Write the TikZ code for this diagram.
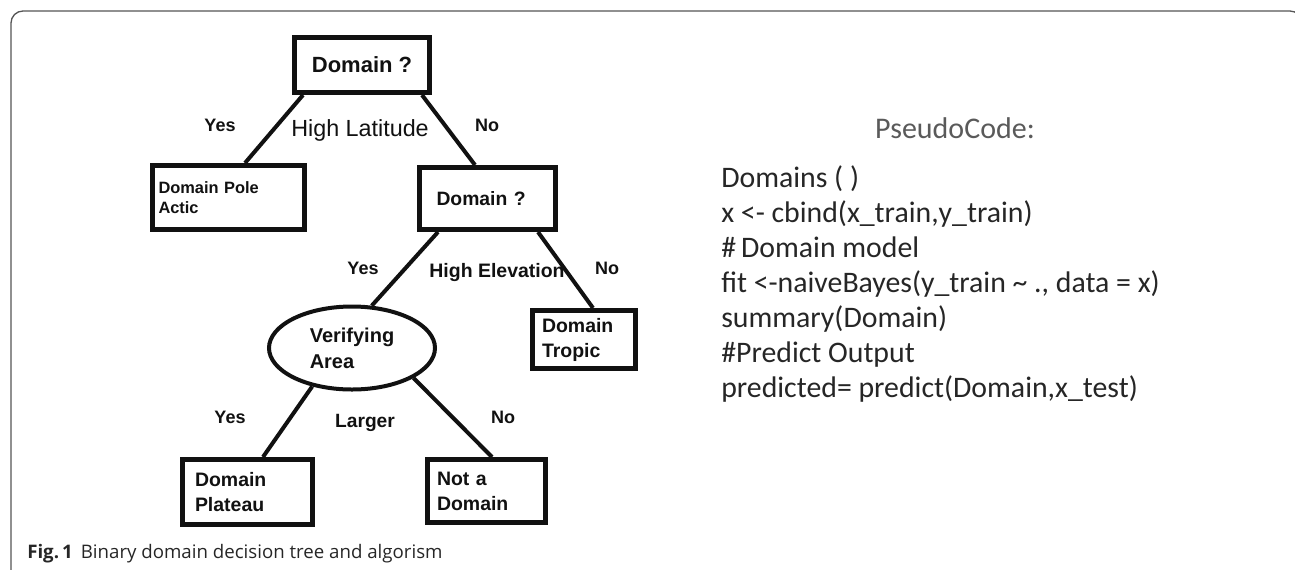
\documentclass[tikz,border=0pt]{standalone}
\usepackage{fontspec}
\setmainfont{Liberation Sans}
\newfontfamily\codefont{Carlito}
\newfontfamily\capfont{Open Sans}
\usetikzlibrary{shapes.geometric,calc}
\definecolor{ink}{HTML}{111111}
\definecolor{codeink}{HTML}{262626}
\definecolor{headgray}{HTML}{5A5A5A}
\definecolor{framegray}{HTML}{555555}
\begin{document}
\begin{tikzpicture}[x=0.75pt,y=-0.75pt,
  box/.style={draw=ink, text=ink, line width=3.75pt, rectangle, inner ysep=0pt, align=left,
    font=\bfseries\fontsize{14.6}{18.75}\selectfont},
  edge/.style={draw=ink, line width=3pt},
  lab/.style={text=ink, font=\bfseries\fontsize{13.5}{16}\selectfont, inner sep=0pt},
  codeline/.style={anchor=base west, inner sep=0pt, text=codeink, font=\codefont\fontsize{22.35}{26}\selectfont}]
\useasboundingbox (0,0) rectangle (1295,569);
% frame
\draw[framegray, line width=1pt, rounded corners=9pt] (11,580) -- (11,11) -- (1302,11) -- (1302,580);

% nodes
\node[box, align=center, inner sep=0pt, minimum width=101.25pt, minimum height=41.25pt,
      font=\bfseries\fontsize{16.5}{19}\selectfont] (root) at (362,65) {Domain ?};
\node[box, inner xsep=4.5pt, text width=105pt, minimum width=114pt, minimum height=48pt,
      font=\bfseries\fontsize{12.3}{15}\selectfont] (pole) at (228.5,197.5) {Domain Pole\\Actic};
\node[box, inner xsep=12.75pt, text width=76.5pt, minimum width=102pt, minimum height=46.5pt,
      font=\bfseries\fontsize{14.5}{18}\selectfont] (dom2) at (487.5,198.5) {Domain ?};
\node[box, inner xsep=7pt, text width=63pt, minimum width=77.25pt, minimum height=43.5pt] (tropic) at (584,339.5) {Domain\\Tropic};
\node[draw=ink, text=ink, line width=3pt, ellipse, inner sep=0pt, minimum width=124.5pt, minimum height=62.25pt,
      align=left, font=\bfseries\fontsize{15}{19.5}\selectfont] (ell) at (352,348) {Verifying\\Area};
\node[box, inner xsep=9.4pt, text width=78.75pt, minimum width=97.5pt, minimum height=48.75pt] (plateau) at (247.5,492) {Domain\\Plateau};
\node[box, inner xsep=7.1pt, text width=74.25pt, minimum width=88.5pt, minimum height=47.25pt] (notdom) at (486.5,491) {Not a\\Domain};

% connectors
\draw[edge] ($(root.south west)+(11,0)$) -- ($(pole.north west)+(95,0)$);
\draw[edge] ($(root.south east)+(-10,0)$) -- ($(dom2.north west)+(58,0)$);
\draw[edge] ($(dom2.south west)+(21,0)$) -- (ell.65);
\draw[edge] ($(dom2.south east)+(-20,0)$) -- ($(tropic.north west)+(63,0)$);
\draw[edge] (ell.224) -- ($(plateau.north west)+(83,0)$);
\draw[edge] (ell.334) -- ($(notdom.north west)+(67,0)$);

% edge labels
\node[lab] (y1) at (220,125) {Yes};
\node[text=ink, inner sep=0pt, font=\fontsize{17.5}{20}\selectfont] (hl) at (360,130) {High Latitude};
\node[lab] (n1) at (487,125) {No};
\node[lab] (y2) at (363,268) {Yes};
\node[lab, font=\bfseries\fontsize{14.6}{17}\selectfont] (he) at (497,273) {High Elevation};
\node[lab] (n2) at (607,268) {No};
\node[lab] (y3) at (230,417) {Yes};
\node[lab, font=\bfseries\fontsize{14.4}{17}\selectfont] (lg) at (365,423) {Larger};
\node[lab] (n3) at (503,417) {No};

% pseudocode
\node[inner sep=0pt, text=headgray, font=\codefont\fontsize{22.5}{26}\selectfont] (head) at (955,128) {PseudoCode:};
\node[codeline] (c1) at (721,187) {Domains ( )};
\node[codeline] (c2) at (721,222) {x <- cbind(x\_train,y\_train)};
\node[codeline] (c3) at (721,257) {\#\,Domain model};
\node[codeline] (c4) at (721,292) {fit <-naiveBayes(y\_train \textasciitilde\ ., data = x)};
\node[codeline] (c5) at (721,327) {summary(Domain)};
\node[codeline] (c6) at (721,362) {\#Predict Output};
\node[codeline] (c7) at (721,397) {predicted= predict(Domain,x\_test)};

% caption
\node[anchor=base west, inner sep=0pt, text=codeink, font=\capfont\fontsize{14}{16}\selectfont] (cap) at (27,558)
  {{\bfseries Fig.\,1}\hspace{6pt}Binary domain decision tree and algorism};
\end{tikzpicture}
\end{document}
